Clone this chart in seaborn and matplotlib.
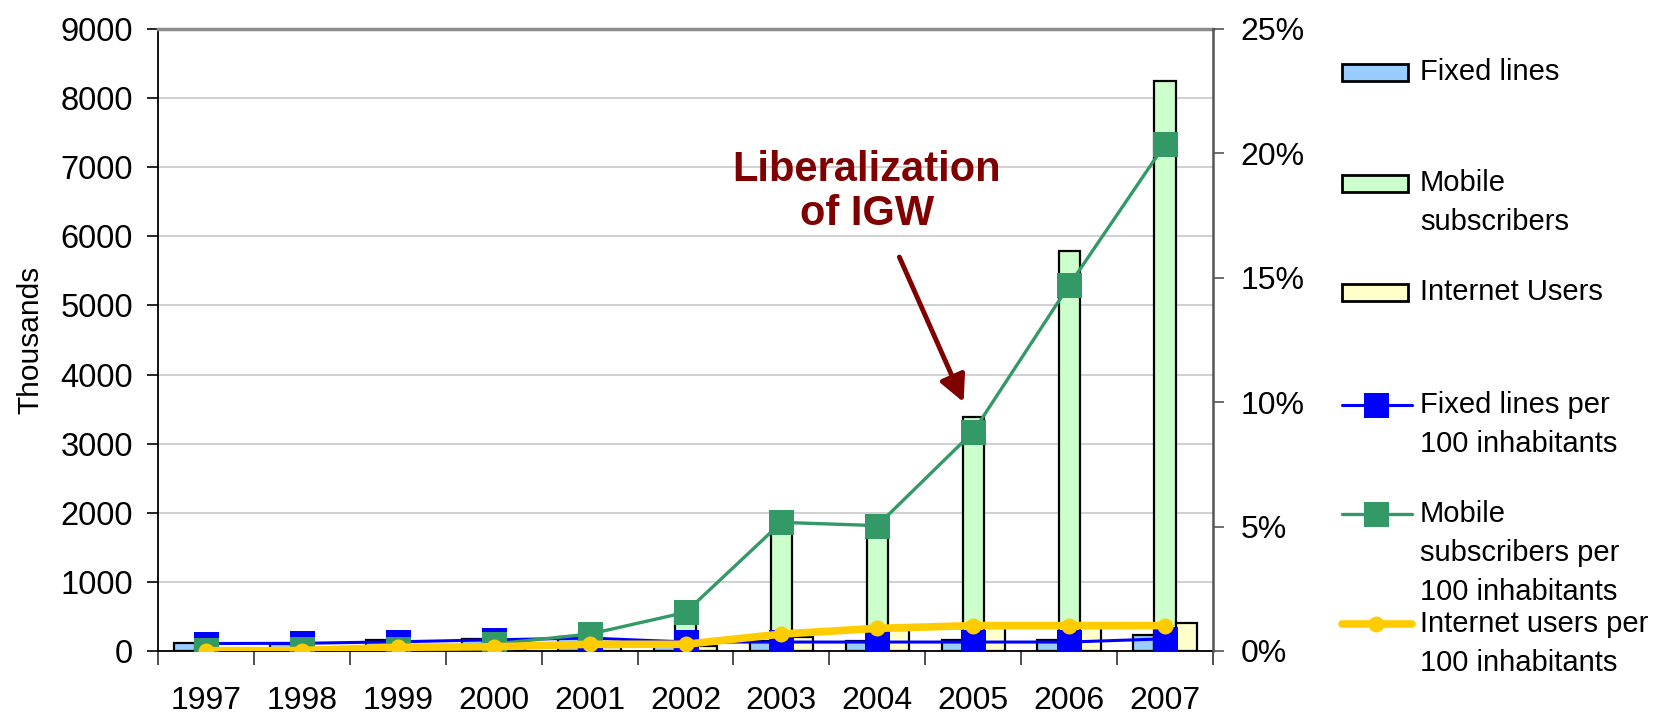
import numpy as np
import pandas as pd
import matplotlib
matplotlib.use("Agg")
import matplotlib.pyplot as plt
import seaborn as sns
from matplotlib.ticker import PercentFormatter, MultipleLocator, FixedLocator, NullFormatter
from matplotlib.patches import Rectangle
from matplotlib.lines import Line2D

# ---------------- data ----------------
years = ["1997", "1998", "1999", "2000", "2001", "2002", "2003", "2004", "2005", "2006", "2007"]

# thousands
fixed_lines = [120, 100, 160, 175, 200, 140, 148, 150, 152, 155, 235]
mobile_subscribers = [20, 40, 80, 120, 280, 560, 1920, 1850, 3390, 5790, 8250]
internet_users = [3, 5, 20, 40, 60, 73, 209, 300, 390, 390, 400]

# per 100 inhabitants (%)
fixed_per100 = [0.30, 0.31, 0.37, 0.45, 0.52, 0.36, 0.36, 0.36, 0.36, 0.36, 0.49]
mobile_per100 = [0.05, 0.07, 0.10, 0.28, 0.68, 1.55, 5.17, 5.04, 8.81, 14.7, 20.37]
internet_per100 = [0.01, 0.02, 0.15, 0.17, 0.27, 0.27, 0.68, 0.91, 1.02, 1.02, 1.02]

bar_series = ["Fixed lines", "Mobile\nsubscribers", "Internet Users"]
line_series = ["Fixed lines per\n100 inhabitants",
               "Mobile\nsubscribers per\n100 inhabitants",
               "Internet users per\n100 inhabitants"]

bar_colors = ["#99CCFF", "#CCFFCC", "#FFFFCC"]
line_colors = ["#0000FF", "#339966", "#FFCC00"]

annotation_text = "Liberalization\nof IGW"

# ---------------- style ----------------
sns.set_style("white")
plt.rcParams["font.family"] = ["Liberation Sans", "DejaVu Sans"]
plt.rcParams["text.color"] = "black"
plt.rcParams["xtick.color"] = "black"
plt.rcParams["ytick.color"] = "black"
plt.rcParams["axes.labelcolor"] = "black"

fig = plt.figure(figsize=(16.55, 7.14), dpi=100)
ax = fig.add_axes([158 / 1655, 1 - 651 / 714, (1213 - 158) / 1655, (651 - 29) / 714])

df = pd.DataFrame({
    "year": years * 3,
    "value": fixed_lines + mobile_subscribers + internet_users,
    "series": [bar_series[0]] * len(years) + [bar_series[1]] * len(years) + [bar_series[2]] * len(years),
})

sns.barplot(data=df, x="year", y="value", hue="series", hue_order=bar_series,
            palette=bar_colors, width=0.66, edgecolor="black", linewidth=1.6,
            saturation=1, legend=False, ax=ax, zorder=2)

ax.set_xlim(-0.5, len(years) - 0.5)
ax.set_ylim(0, 9000)
ax.yaxis.set_major_locator(MultipleLocator(1000))
ax.set_axisbelow(True)
ax.grid(axis="y", color="#C8C8C8", linewidth=1.2)
ax.grid(axis="x", visible=False)

for s in ["left", "bottom"]:
    ax.spines[s].set_color("black")
    ax.spines[s].set_linewidth(1.3)
ax.spines["top"].set_color("#8C8C8C")
ax.spines["top"].set_linewidth(2.5)
ax.spines["right"].set_visible(False)

ax.set_xlabel("")
ax.set_ylabel("Thousands", fontsize=21.5)
ax.yaxis.set_label_coords(-0.108, 0.5)

ax.tick_params(axis="y", which="major", direction="out", length=8, width=1.2,
               color="black", labelsize=23.5, pad=10, left=True)
ax.xaxis.set_minor_locator(FixedLocator(np.arange(-0.5, len(years), 1.0)))
ax.xaxis.set_minor_formatter(NullFormatter())
ax.tick_params(axis="x", which="minor", direction="out", length=10, width=1.2,
               color="#333333", bottom=True)
ax.tick_params(axis="x", which="major", length=0, labelsize=23, pad=25)

# ---------------- lines on secondary axis ----------------
ax2 = ax.twinx()
xpos = np.arange(len(years))
sns.lineplot(x=xpos, y=fixed_per100, ax=ax2, color=line_colors[0], linewidth=2.2,
             marker="s", markersize=18, markeredgewidth=0, zorder=3)
sns.lineplot(x=xpos, y=mobile_per100, ax=ax2, color=line_colors[1], linewidth=2.4,
             marker="s", markersize=18, markeredgewidth=0, zorder=4)
sns.lineplot(x=xpos, y=internet_per100, ax=ax2, color=line_colors[2], linewidth=5.5,
             marker="o", markersize=11.5, markeredgewidth=0, zorder=5)

ax2.set_xlim(-0.5, len(years) - 0.5)
ax2.set_ylim(0, 25)
ax2.yaxis.set_major_locator(MultipleLocator(5))
ax2.yaxis.set_major_formatter(PercentFormatter(xmax=100, decimals=0))
ax2.tick_params(axis="y", direction="out", length=8, width=1.2, color="#555555",
                labelsize=23, pad=12, right=True)
ax2.grid(False)
for s in ["left", "bottom", "top"]:
    ax2.spines[s].set_visible(False)
ax2.spines["right"].set_color("#555555")
ax2.spines["right"].set_linewidth(1.8)
ax2.set_ylabel("")

# ---------------- annotation ----------------
ax.text(6.89, 6640, annotation_text, ha="center", va="center", fontsize=30,
        fontweight="bold", color="#800000", linespacing=1.15, zorder=6)
ax.annotate("", xy=(7.9, 3600), xytext=(7.23, 5700),
            arrowprops=dict(arrowstyle="-|>,head_length=0.8,head_width=0.4",
                            color="#800000", lw=3.5, mutation_scale=20,
                            shrinkA=0, shrinkB=0), zorder=6)

# ---------------- legend (manual, in figure pixels) ----------------
lax = fig.add_axes([0, 0, 1, 1], facecolor="none")
lax.set_xlim(0, 1655)
lax.set_ylim(714, 0)
lax.axis("off")

leg_fs = 21
leg_ls = 1.5
leg_y = [72, 183, 292, 405, 514, 624]
for i, (lab, col) in enumerate(zip(bar_series, bar_colors)):
    y = leg_y[i]
    lax.add_patch(Rectangle((1342, y - 8.5), 66, 17, facecolor=col,
                            edgecolor="black", linewidth=2))
    lax.text(1420, y - 14, lab, ha="left", va="top", fontsize=leg_fs, linespacing=leg_ls)

line_kw = [dict(lw=2.2, marker="s", ms=18), dict(lw=2.4, marker="s", ms=18),
           dict(lw=5.5, marker="o", ms=11.5)]
for j, (lab, col) in enumerate(zip(line_series, line_colors)):
    y = leg_y[3 + j]
    lax.add_line(Line2D([1342, 1412], [y, y], color=col, lw=line_kw[j]["lw"]))
    lax.add_line(Line2D([1376], [y], color=col, marker=line_kw[j]["marker"],
                        markersize=line_kw[j]["ms"], markeredgewidth=0, linestyle="none"))
    lax.text(1420, y - 14, lab, ha="left", va="top", fontsize=leg_fs, linespacing=leg_ls)

fig.savefig("out.png", dpi=100)
